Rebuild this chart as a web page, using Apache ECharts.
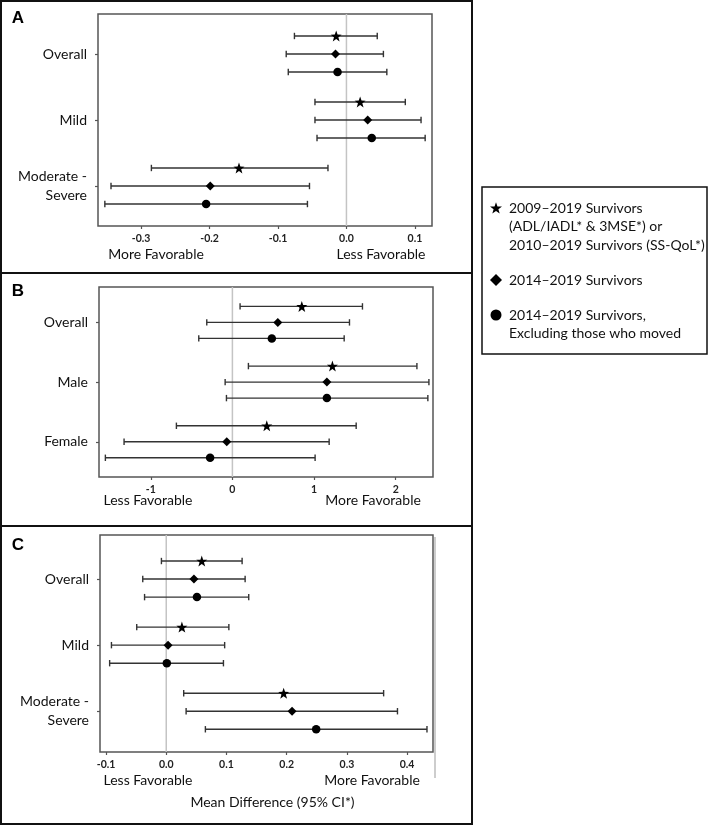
<!DOCTYPE html>
<html><head><meta charset="utf-8">
<script src="https://cdn.jsdelivr.net/npm/echarts@6/dist/echarts.min.js"></script>
<style>html,body{margin:0;padding:0;background:#fff}#c{width:709px;height:826px}</style>
</head><body><div id="c"></div>
<script>
// ---- Data ----
const groupsA = ['Overall', 'Mild', 'Moderate -\nSevere'];
const groupsB = ['Overall', 'Male', 'Female'];
const groupsC = ['Overall', 'Mild', 'Moderate -\nSevere'];
const cohorts = [
  '2009–2019 Survivors\n(ADL/IADL* & 3MSE*) or\n2010–2019 Survivors (SS-QoL*)',
  '2014–2019 Survivors',
  '2014–2019 Survivors,\nExcluding those who moved'
];
const ticksA = [-0.3, -0.2, -0.1, 0.0, 0.1];
const ticksB = [-1, 0, 1, 2];
const ticksC = [-0.1, 0.0, 0.1, 0.2, 0.3, 0.4];
const panelLetters = ['A', 'B', 'C'];
const favA = ['More Favorable', 'Less Favorable'];
const favB = ['Less Favorable', 'More Favorable'];
const favC = ['Less Favorable', 'More Favorable'];
const xTitleC = 'Mean Difference (95% CI*)';
// [estimate, lower, upper] per group
const A_2009 = [[-0.015, -0.076, 0.045], [0.020, -0.046, 0.086], [-0.157, -0.285, -0.027]];
const A_2014 = [[-0.016, -0.088, 0.054], [0.031, -0.046, 0.109], [-0.199, -0.344, -0.054]];
const A_2014x = [[-0.013, -0.085, 0.059], [0.037, -0.043, 0.115], [-0.205, -0.353, -0.057]];
const B_2009 = [[0.85, 0.094, 1.593], [1.225, 0.196, 2.26], [0.421, -0.686, 1.516]];
const B_2014 = [[0.556, -0.314, 1.434], [1.157, -0.089, 2.407], [-0.069, -1.327, 1.185]];
const B_2014x = [[0.483, -0.412, 1.369], [1.157, -0.073, 2.394], [-0.273, -1.556, 1.013]];
const C_2009 = [[0.059, -0.008, 0.126], [0.026, -0.049, 0.104], [0.195, 0.029, 0.361]];
const C_2014 = [[0.046, -0.039, 0.131], [0.003, -0.091, 0.097], [0.209, 0.033, 0.384]];
const C_2014x = [[0.051, -0.036, 0.137], [0.001, -0.094, 0.095], [0.249, 0.065, 0.433]];

// ---- Layout / style ----
const FONT = 'Lato';
const STAR_PTS = [[0,-10],[2.35,-3.24],[9.51,-3.09],[3.8,1.24],[5.88,8.09],[0,4],[-5.88,8.09],[-3.8,1.24],[-9.51,-3.09],[-2.35,-3.24]];
const STAR = 'path://M' + STAR_PTS.map(p => p[0] + ',' + p[1]).join(' L') + ' Z';
const symbols = [STAR, 'diamond', 'circle'];
const symSizes = [11, 9, 8.5];
const panels = [
  { groups: groupsA, ticks: ticksA, fmt: v => v.toFixed(1), sets: [A_2009, A_2014, A_2014x],
    grid: { left: 98, top: 14, width: 334, height: 212 }, xmin: -0.363, xmax: 0.125, ymin: 0.394, ymax: 3.606, dodge: 0.273 },
  { groups: groupsB, ticks: ticksB, fmt: v => String(Math.round(v)), sets: [B_2009, B_2014, B_2014x],
    grid: { left: 99, top: 287, width: 334, height: 190 }, xmin: -1.634, xmax: 2.457, ymin: 0.407, ymax: 3.59, dodge: 0.268 },
  { groups: groupsC, ticks: ticksC, fmt: v => v.toFixed(1), sets: [C_2009, C_2014, C_2014x],
    grid: { left: 100, top: 535, width: 333, height: 217 }, xmin: -0.11, xmax: 0.443, ymin: 0.333, ymax: 3.617, dodge: 0.273 }
];

const grids = [], xAxes = [], yAxes = [], series = [];
panels.forEach((p, pi) => {
  grids.push(Object.assign({ show: true, borderColor: '#555', borderWidth: 1.5, backgroundColor: 'transparent' }, p.grid));
  xAxes.push({
    type: 'value', gridIndex: pi, min: p.xmin, max: p.xmax, splitLine: { show: false },
    axisLine: { show: false, onZero: false },
    axisTick: { show: true, customValues: p.ticks, length: 3, lineStyle: { color: '#555', width: 1.2 } },
    axisLabel: { customValues: p.ticks, formatter: p.fmt, margin: 7, fontFamily: FONT, fontWeight: 'bold', fontSize: 10.5, color: '#222' },
    name: pi === 2 ? xTitleC : '', nameLocation: 'middle', nameGap: 43,
    nameTextStyle: { fontFamily: FONT, fontSize: 14, color: '#111', padding: [0, 0, 0, 12] }
  });
  yAxes.push({
    type: 'value', gridIndex: pi, inverse: true, min: p.ymin, max: p.ymax, splitLine: { show: false },
    axisLine: { show: false, onZero: false },
    axisTick: { show: true, customValues: [1, 2, 3], length: 3, lineStyle: { color: '#555', width: 1.2 } },
    axisLabel: { customValues: [1, 2, 3], formatter: v => p.groups[Math.round(v) - 1] || '', margin: 11,
      fontFamily: FONT, fontSize: 14, color: '#111', lineHeight: 19, align: 'right' }
  });
  // zero reference line
  series.push({
    type: 'line', xAxisIndex: pi, yAxisIndex: pi, z: 1, silent: true, symbol: 'none',
    lineStyle: { color: '#c4c4c4', width: 1.5 },
    data: [[0, p.ymin], [0, p.ymax]]
  });
  p.sets.forEach((set, ci) => {
    const ys = p.groups.map((g, gi) => gi + 1 + (ci - 1) * p.dodge);
    series.push({
      type: 'custom', name: cohorts[ci], xAxisIndex: pi, yAxisIndex: pi, z: 2, silent: true,
      encode: { x: [0, 1], y: 2 },
      data: set.map((d, gi) => [d[1], d[2], ys[gi]]),
      renderItem: function (params, api) {
        const y = api.value(2);
        const a = api.coord([api.value(0), y]);
        const b = api.coord([api.value(1), y]);
        const h = 3.2, st = { stroke: '#333', lineWidth: 1.4 };
        return { type: 'group', children: [
          { type: 'line', shape: { x1: a[0], y1: a[1], x2: b[0], y2: b[1] }, style: st },
          { type: 'line', shape: { x1: a[0], y1: a[1] - h, x2: a[0], y2: a[1] + h }, style: st },
          { type: 'line', shape: { x1: b[0], y1: b[1] - h, x2: b[0], y2: b[1] + h }, style: st }
        ] };
      }
    });
    series.push({
      type: 'scatter', name: cohorts[ci], xAxisIndex: pi, yAxisIndex: pi, z: 3, silent: true,
      symbol: symbols[ci], symbolSize: symSizes[ci], itemStyle: { color: '#000', opacity: 1 },
      data: set.map((d, gi) => [d[0], ys[gi]])
    });
  });
});

// ---- Frames, annotations, legend ----
const T = (text, x, y, opts) => ({ type: 'text', x: x, y: y, silent: true,
  style: Object.assign({ text: text, fontFamily: FONT, fontSize: 14, fill: '#111', align: 'center', verticalAlign: 'middle' }, opts || {}) });
const LETTER = { fontFamily: 'Liberation Sans', fontWeight: 'bold', fontSize: 17, fill: '#000' };
const graphic = [
  { type: 'rect', shape: { x: 1, y: 1, width: 471, height: 823 }, style: { fill: 'none', stroke: '#111', lineWidth: 2 }, silent: true },
  { type: 'line', shape: { x1: 0, y1: 273, x2: 472, y2: 273 }, style: { stroke: '#111', lineWidth: 2 }, silent: true },
  { type: 'line', shape: { x1: 0, y1: 526, x2: 472, y2: 526 }, style: { stroke: '#111', lineWidth: 2 }, silent: true },
  { type: 'line', shape: { x1: 435, y1: 537, x2: 435, y2: 778 }, style: { stroke: '#bdbdbd', lineWidth: 1.5 }, silent: true },
  T(panelLetters[0], 18, 18, LETTER),
  T(panelLetters[1], 18, 291, LETTER),
  T(panelLetters[2], 18, 545, LETTER),
  T(favA[0], 156, 254), T(favA[1], 381, 254),
  T(favB[0], 148, 500), T(favB[1], 373, 500),
  T(favC[0], 148, 780), T(favC[1], 372, 780),
  { type: 'rect', shape: { x: 482, y: 187, width: 225, height: 167 }, style: { fill: '#fff', stroke: '#111', lineWidth: 1.5 }, silent: true }
];
const legendY = [208, 280, 315];
const legendSym = [
  { type: 'polygon', shape: { points: STAR_PTS.map(p => [496 + p[0] * 0.63, 208.5 + p[1] * 0.63]) }, style: { fill: '#000' } },
  { type: 'polygon', shape: { points: [[496, 274], [502, 280], [496, 286], [490, 280]] }, style: { fill: '#000' } },
  { type: 'circle', shape: { cx: 496, cy: 315, r: 5.5 }, style: { fill: '#000' } }
];
cohorts.forEach((name, i) => {
  graphic.push(Object.assign({ silent: true }, legendSym[i]));
  graphic.push(T(name, 509, legendY[i] - 9.25, { align: 'left', verticalAlign: 'top', lineHeight: 18.5, fill: '#111' }));
});

const chart = echarts.init(document.getElementById('c'), null, { renderer: 'canvas' });
chart.setOption({
  animation: false,
  backgroundColor: '#fff',
  grid: grids, xAxis: xAxes, yAxis: yAxes, series: series, graphic: graphic
});
</script></body></html>
